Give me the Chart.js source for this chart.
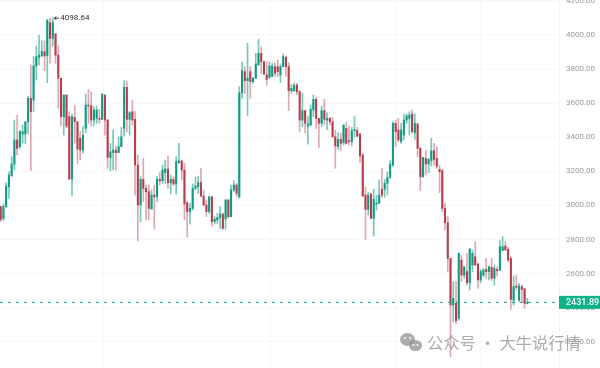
<!DOCTYPE html>
<html>
<head>
<meta charset="utf-8">
<title>Candles</title>
<script src="https://cdn.jsdelivr.net/npm/chart.js@4"></script>
<style>
  html, body { margin: 0; padding: 0; background: #fff; }
  canvas { display: block; }
</style>
</head>
<body>
<canvas id="kline" width="600" height="368"></canvas>
<script>
// Kerzen, von links nach rechts
const opens = [
  2993,2924,2993,3110,3175,3243,3384,3345,3419,3419,
  3491,3628,3618,3818,3869,3877,3902,3879,4072,3980,
  4006,3882,3746,3521,3648,3521,3155,3517,3491,3394,
  3325,3452,3589,3585,3501,3511,3511,3505,3648,3501,
  3282,3310,3325,3310,3345,3452,3693,3505,3550,3505,
  3237,3003,3153,3100,3081,2979,3061,3051,3153,3145,
  3192,3214,3134,3153,3126,3251,3261,3208,3016,2964,
  2983,3100,3110,3134,3055,3003,2964,3051,2905,2915,
  2930,2950,2921,3032,2934,3091,3120,3051,3661,3785,
  3732,3785,3726,3746,3824,3892,3843,3765,3751,3759,
  3814,3814,3765,3814,3869,3814,3673,3673,3706,3667,
  3501,3556,3466,3472,3560,3622,3511,3482,3556,3501,
  3511,3491,3403,3345,3388,3368,3452,3378,3374,3439,
  3439,3419,3296,3061,2977,3067,2924,3008,3012,3095,
  3095,3130,3165,3237,3482,3443,3374,3413,3501,3511,
  3536,3427,3478,3335,3169,3276,3243,3263,3321,3276,
  3212,3204,2983,2899,2690,2416,2426,2338,2680,2592,
  2612,2547,2651,2700,2657,2563,2592,2625,2612,2637,
  2573,2625,2621,2735,2762,2743,2690,2445,2528,2445,
  2524,2512,2426
];
const highs = [
  2997,3009,3134,3198,3286,3501,3530,3439,3472,3491,
  3642,3824,3873,3935,4000,3966,3966,4090,4097,4098.64,
  4010,3935,3746,3648,3648,3550,3536,3589,3491,3433,
  3462,3654,3681,3667,3579,3583,3564,3658,3648,3505,
  3364,3443,3349,3403,3458,3732,3726,3550,3618,3550,
  3296,3169,3276,3120,3120,3091,3120,3169,3192,3237,
  3267,3290,3179,3169,3286,3364,3267,3247,3022,3012,
  3126,3165,3169,3218,3091,3032,3055,3051,2934,2954,
  2993,2954,3036,3036,3120,3145,3130,3697,3843,3814,
  3951,3814,3751,3892,3974,3931,3849,3843,3843,3834,
  3837,3853,3830,3888,3877,3837,3710,3720,3716,3673,
  3658,3560,3521,3589,3648,3634,3511,3583,3622,3544,
  3517,3517,3443,3427,3423,3472,3486,3466,3458,3521,
  3458,3423,3306,3106,3075,3071,3095,3061,3149,3218,
  3153,3198,3263,3491,3501,3511,3482,3536,3536,3550,
  3560,3536,3482,3341,3282,3325,3276,3394,3364,3345,
  3237,3212,3012,2934,2690,2553,2553,2723,2709,2641,
  2719,2749,2739,2788,2664,2625,2631,2690,2645,2690,
  2651,2641,2797,2817,2788,2754,2700,2586,2592,2543,
  2533,2514,2455
];
const lows = [
  2905,2911,2989,3042,3169,3208,3296,3335,3364,3364,
  3423,3204,3550,3736,3824,3873,3791,3720,3834,3935,
  3834,3570,3466,3413,3456,3153,3055,3364,3247,3267,
  3306,3427,3482,3466,3466,3482,3482,3505,3413,3218,
  3204,3208,3208,3310,3345,3407,3433,3413,3472,3061,
  2793,2905,3022,2915,2915,2979,2862,3022,3120,3130,
  3130,3100,3067,3120,3067,3247,3149,2915,2813,2891,
  2973,3091,3071,3051,2999,2934,2954,2879,2891,2895,
  2866,2860,2860,2925,2934,3081,3051,3042,3628,3658,
  3525,3628,3716,3746,3824,3771,3765,3706,3746,3755,
  3755,3755,3720,3814,3759,3556,3658,3667,3648,3433,
  3462,3427,3360,3466,3521,3452,3341,3462,3472,3443,
  3472,3400,3218,3329,3325,3355,3360,3355,3349,3403,
  3403,3251,3052,2801,2944,2924,2821,2973,3022,3048,
  3048,3061,3159,3231,3345,3374,3364,3384,3482,3413,
  3423,3388,3286,3087,3165,3179,3192,3231,3237,3218,
  3075,2964,2856,2612,2113,2318,2309,2328,2553,2573,
  2533,2504,2612,2651,2514,2547,2582,2573,2563,2559,
  2533,2586,2618,2735,2739,2670,2391,2416,2504,2436,
  2436,2397,2422
];
const closes = [
  2919,2993,3114,3179,3243,3384,3335,3433,3433,3491,
  3628,3550,3818,3873,3882,3902,3877,4087,3980,4072,
  3882,3746,3521,3648,3466,3155,3521,3491,3331,3325,
  3413,3589,3583,3501,3560,3560,3505,3652,3501,3282,
  3315,3325,3310,3345,3403,3693,3505,3544,3501,3237,
  3003,3153,3100,3081,2983,3061,3051,3153,3145,3208,
  3214,3134,3153,3126,3257,3261,3208,3008,2964,2983,
  3100,3114,3134,3055,3003,2964,3051,2905,2920,2930,
  2950,2866,3032,2934,3091,3120,3071,3661,3790,3732,
  3746,3726,3746,3830,3892,3843,3771,3740,3818,3818,
  3775,3785,3814,3873,3814,3673,3687,3706,3667,3501,
  3556,3482,3478,3564,3622,3511,3482,3556,3505,3511,
  3491,3403,3349,3388,3364,3472,3364,3374,3439,3443,
  3407,3290,3056,2977,3061,2924,3036,3012,3061,3061,
  3130,3165,3243,3482,3433,3384,3443,3501,3525,3530,
  3433,3482,3335,3169,3282,3243,3270,3321,3270,3231,
  3198,2983,2899,2690,2416,2455,2324,2719,2592,2641,
  2547,2743,2719,2651,2563,2612,2621,2612,2641,2573,
  2631,2618,2758,2758,2739,2680,2449,2524,2520,2528,
  2508,2426,2431.89
];

const peakIndex = 19;
const peakPrice = 4098.64;
const lastPrice = 2431.89;
const gridCandles = [6.7, 68, 128.5, 159.8, 190.4];
const watermark = '公众号 · 大牛说行情';

const upBody = '#0f9a82';
const downBody = '#b83c4c';
const upWick = 'rgba(8,153,129,0.55)';
const downWick = 'rgba(184,60,76,0.45)';
const labelGreen = '#0db387';

const isUp = i => closes[i] >= opens[i];
const wickBars = lows.map((low, i) => ({ x: i, y: [low, highs[i]] }));
const bodyBars = opens.map((open, i) => ({ x: i, y: [open, closes[i]] }));

// Hoch-Marke, Preislinie und Wasserzeichen
const overlay = {
  id: 'overlay',
  afterDraw(chart) {
    const { ctx, scales: { x, y } } = chart;
    const right = x.right;
    const lastY = y.getPixelForValue(lastPrice);

    ctx.save();
    // Preislinie
    ctx.strokeStyle = '#1f9e85';
    ctx.lineWidth = 1;
    ctx.setLineDash([3, 5]);
    ctx.beginPath();
    ctx.moveTo(0, lastY);
    ctx.lineTo(right, lastY);
    ctx.stroke();
    ctx.setLineDash([]);

    // Preisschild
    ctx.fillStyle = labelGreen;
    ctx.fillRect(right, lastY - 6.5, 600 - right, 13);
    ctx.fillStyle = '#fff';
    ctx.font = '500 9px Roboto';
    ctx.textAlign = 'left';
    ctx.textBaseline = 'middle';
    ctx.fillText(lastPrice.toFixed(2), right + 7, lastY + 0.5);

    // Hoch-Marke
    const px = x.getPixelForValue(peakIndex);
    const py = y.getPixelForValue(peakPrice);
    ctx.strokeStyle = '#333';
    ctx.beginPath();
    ctx.moveTo(px + 6, py);
    ctx.lineTo(px + 1.5, py);
    ctx.moveTo(px + 3.5, py - 1.5);
    ctx.lineTo(px + 1.5, py);
    ctx.lineTo(px + 3.5, py + 1.5);
    ctx.stroke();
    ctx.fillStyle = '#333';
    ctx.font = '8px Roboto';
    ctx.fillText(peakPrice.toFixed(2), px + 7.5, py);

    // Wasserzeichen
    ctx.fillStyle = 'rgba(150,150,150,0.8)';
    ctx.beginPath();
    ctx.ellipse(407.5, 339.5, 7.5, 6.5, 0, 0, Math.PI * 2);
    ctx.fill();
    ctx.beginPath();
    ctx.ellipse(415.5, 345.5, 6.5, 5.5, 0, 0, Math.PI * 2);
    ctx.fill();
    ctx.fillStyle = '#fff';
    [[405, 338], [410, 338], [413.5, 345], [417.5, 345]].forEach(([ex, ey]) => {
      ctx.beginPath();
      ctx.arc(ex, ey, 1, 0, Math.PI * 2);
      ctx.fill();
    });
    ctx.fillStyle = 'rgba(150,150,150,0.8)';
    ctx.font = '16.3px "Noto Sans CJK SC"';
    ctx.fillText(watermark, 427, 343);
    ctx.restore();
  }
};

new Chart(document.getElementById('kline'), {
  type: 'bar',
  data: {
    datasets: [
      {
        data: bodyBars,
        order: 1,
        barThickness: 1.4,
        minBarLength: 1,
        backgroundColor: bodyBars.map((_, i) => isUp(i) ? upBody : downBody)
      },
      {
        data: wickBars,
        order: 2,
        barThickness: 1,
        backgroundColor: wickBars.map((_, i) => isUp(i) ? upWick : downWick)
      }
    ]
  },
  options: {
    responsive: false,
    animation: false,
    events: [],
    layout: { padding: 0 },
    plugins: { legend: { display: false }, tooltip: { enabled: false } },
    datasets: { bar: { grouped: false } },
    scales: {
      x: {
        type: 'linear',
        offset: false,
        min: -0.245,
        max: 203.55,
        afterBuildTicks: scale => { scale.ticks = gridCandles.map(value => ({ value })); },
        afterFit: scale => { scale.height = 0; scale.paddingLeft = 0; scale.paddingRight = 0; },
        ticks: { display: false },
        border: { display: false },
        grid: { color: '#f8f8fa', drawTicks: false }
      },
      y: {
        position: 'right',
        min: 2047,
        max: 4205,
        afterFit: scale => { scale.width = 41; scale.paddingTop = 0; scale.paddingBottom = 0; },
        ticks: {
          stepSize: 200,
          includeBounds: false,
          padding: 7,
          crossAlign: 'near',
          color: '#989aa1',
          font: { family: 'Roboto', size: 8 },
          callback: value => value.toFixed(2)
        },
        border: { color: '#f3f3f6' },
        grid: { color: '#f8f8fa', drawTicks: false }
      }
    }
  },
  plugins: [overlay]
});
</script>
</body>
</html>
